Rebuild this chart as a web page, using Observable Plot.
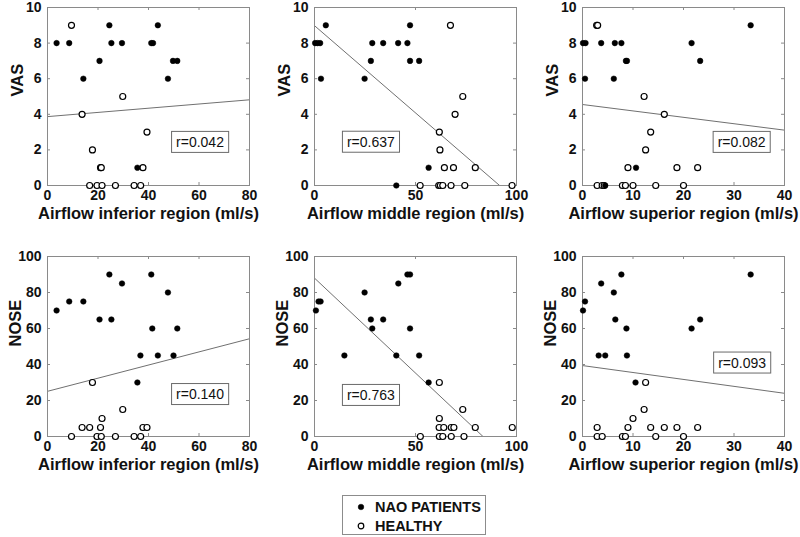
<!DOCTYPE html>
<html><head><meta charset="utf-8">
<script src="https://cdn.jsdelivr.net/npm/d3@7"></script>
<script src="https://cdn.jsdelivr.net/npm/@observablehq/plot@0.6"></script>
<style>
body{margin:0;background:#fff;font-family:"Liberation Sans",Arial,sans-serif;}
#fig{position:relative;width:800px;height:537px;overflow:hidden;background:#fff;}
.panel{position:absolute;}
#legend{position:absolute;left:342px;top:495px;width:144px;height:40px;border:1px solid #8c8c8c;box-sizing:border-box;font-weight:bold;font-size:14.5px;color:#111;background:#fff;}
#legend .row{position:absolute;left:0;height:18px;line-height:18px;white-space:nowrap;}
#legend svg{position:absolute;left:12px;top:3px;}
#legend span{position:absolute;left:32px;top:0;}
</style></head><body><div id="fig"></div>
<script>
// ---- axes / labels ----
const xLabels = ["Airflow inferior region (ml/s)", "Airflow middle region (ml/s)", "Airflow superior region (ml/s)"];
const xMax = [80, 100, 40];
const xTicks = [[0, 20, 40, 60, 80], [0, 50, 100], [0, 10, 20, 30, 40]];
const yLabels = ["VAS", "NOSE"];
const yMax = [10, 100];
const yTicks = [[0, 2, 4, 6, 8, 10], [0, 20, 40, 60, 80, 100]];
const groups = ["NAO PATIENTS", "HEALTHY"];

// ---- VAS vs inferior ----
const vasInfPatX = [3.6, 8.6, 14.2, 20.6, 24.5, 25.3, 29.5, 35.6, 41.1, 41.8, 43.7, 47.7, 49.7, 51.4];
const vasInfPatY = [8, 8, 6, 7, 9, 8, 8, 1, 8, 8, 9, 6, 7, 7];
const vasInfHeaX = [9.5, 13.7, 16.7, 17.8, 19.6, 21.0, 21.3, 21.6, 26.9, 29.8, 34.3, 36.9, 37.8, 39.4];
const vasInfHeaY = [9, 4, 0, 2, 0, 1, 1, 0, 0, 5, 0, 0, 1, 3];
// ---- VAS vs middle ----
const vasMidPatX = [0.3, 1.5, 2.8, 3.2, 5.6, 24.8, 27.9, 28.6, 34.0, 40.5, 41.4, 46.0, 47.3, 47.3, 51.8, 56.5];
const vasMidPatY = [8, 8, 8, 6, 9, 6, 7, 8, 8, 0, 8, 8, 9, 7, 7, 1];
const vasMidHeaX = [52.3, 61.5, 61.8, 62.1, 62.3, 63.5, 64.3, 67.3, 67.6, 68.8, 69.6, 73.4, 74.4, 79.6, 97.8];
const vasMidHeaY = [0, 0, 3, 2, 0, 0, 1, 9, 0, 1, 4, 5, 0, 1, 0];
// ---- VAS vs superior ----
const vasSupPatX = [0.1, 0.6, 0.5, 3.7, 4.5, 6.2, 6.4, 7.7, 8.6, 8.8, 10.6, 21.6, 23.3, 33.3];
const vasSupPatY = [8, 8, 6, 8, 0, 6, 8, 8, 7, 7, 1, 8, 7, 9];
const vasSupHeaX = [2.8, 3.0, 2.9, 3.9, 4.3, 7.9, 8.5, 9.0, 10.0, 12.2, 12.5, 13.5, 14.5, 16.2, 18.7, 20.0, 22.8];
const vasSupHeaY = [9, 9, 0, 0, 0, 0, 0, 1, 0, 5, 2, 3, 0, 4, 1, 0, 1];
// ---- NOSE vs inferior ----
const noseInfPatX = [3.6, 8.6, 14.2, 20.6, 24.5, 25.3, 29.5, 35.6, 36.8, 41.1, 41.5, 43.7, 47.7, 49.9, 51.4];
const noseInfPatY = [70, 75, 75, 65, 90, 65, 85, 30, 45, 90, 60, 45, 80, 45, 60];
const noseInfHeaX = [9.5, 13.7, 16.7, 17.8, 19.6, 21.0, 21.3, 21.6, 26.9, 29.8, 34.3, 36.9, 37.8, 39.4];
const noseInfHeaY = [0, 5, 5, 30, 0, 5, 0, 10, 0, 15, 0, 0, 5, 5];
// ---- NOSE vs middle ----
const noseMidPatX = [0.7, 2.0, 3.0, 14.8, 24.8, 27.9, 28.6, 34.0, 40.5, 41.5, 46.0, 47.3, 47.3, 51.8, 56.5];
const noseMidPatY = [70, 75, 75, 45, 80, 65, 60, 65, 45, 85, 90, 90, 60, 45, 30];
const noseMidHeaX = [52.4, 61.8, 63.5, 67.7, 74.0, 61.7, 64.0, 67.7, 69.0, 79.6, 97.9, 61.8, 73.4, 61.8];
const noseMidHeaY = [0, 0, 0, 0, 0, 5, 5, 5, 5, 5, 5, 10, 15, 30];
// ---- NOSE vs superior ----
const noseSupPatX = [0.1, 0.5, 3.2, 3.7, 4.5, 6.2, 6.5, 7.7, 8.7, 8.8, 10.5, 21.6, 23.3, 33.3];
const noseSupPatY = [70, 75, 45, 85, 45, 80, 65, 90, 60, 45, 30, 60, 65, 90];
const noseSupHeaX = [2.9, 2.9, 3.9, 7.9, 8.5, 9.0, 10.0, 12.2, 12.5, 13.5, 14.5, 16.2, 18.7, 20.0, 22.8];
const noseSupHeaY = [5, 0, 0, 0, 0, 5, 10, 15, 30, 5, 0, 5, 5, 0, 5];

// ---- fitted lines (intercept, slope) and r annotations ----
const fitIntercept = [3.87, 8.98, 4.55, 25.1, 88.0, 39.4];
const fitSlope = [0.0118, -0.098, -0.036, 0.365, -1.055, -0.385];
const rText = ["r=0.042", "r=0.637", "r=0.082", "r=0.140", "r=0.763", "r=0.093"];
const rX = [60.4, 27.9, 31.5, 60.4, 27.9, 31.6];
const rY = [2.42, 2.43, 2.42, 23.3, 22.8, 40.8];

const patX = [vasInfPatX, vasMidPatX, vasSupPatX, noseInfPatX, noseMidPatX, noseSupPatX];
const patY = [vasInfPatY, vasMidPatY, vasSupPatY, noseInfPatY, noseMidPatY, noseSupPatY];
const heaX = [vasInfHeaX, vasMidHeaX, vasSupHeaX, noseInfHeaX, noseMidHeaX, noseSupHeaX];
const heaY = [vasInfHeaY, vasMidHeaY, vasSupHeaY, noseInfHeaY, noseMidHeaY, noseSupHeaY];

// ---- layout ----
const frameLeft = [46.5, 314, 581.5];
const frameTop = [7, 256];
const frameH = [178, 180];
const W = 202, mL = 46, mT = 10, mR = 12, mB = 48;
const FONT = "'Liberation Sans', Arial, sans-serif";
const fig = document.getElementById("fig");

for (let k = 0; k < 6; k++) {
  const row = Math.floor(k / 3), col = k % 3;
  const H = frameH[row];
  const pats = patX[k].map((x, i) => ({x, y: patY[k][i]}));
  const heas = heaX[k].map((x, i) => ({x, y: heaY[k][i]}));
  const fit = [0, xMax[col]].map(x => ({x, y: fitIntercept[k] + fitSlope[k] * x}));
  const chart = Plot.plot({
    width: mL + W + mR, height: mT + H + mB,
    marginLeft: mL, marginTop: mT, marginRight: mR, marginBottom: mB,
    style: {background: "transparent", overflow: "visible", fontFamily: FONT},
    x: {domain: [0, xMax[col]]},
    y: {domain: [0, yMax[row]]},
    marks: [
      Plot.line(fit, {x: "x", y: "y", stroke: "#707070", strokeWidth: 1, clip: true}),
      Plot.tickX(xTicks[col], {x: d => d, insetTop: H - 3, stroke: "#8a8a8a"}),
      Plot.tickX(xTicks[col], {x: d => d, insetBottom: H - 3, stroke: "#8a8a8a"}),
      Plot.tickY(yTicks[row], {y: d => d, insetRight: W - 3, stroke: "#8a8a8a"}),
      Plot.tickY(yTicks[row], {y: d => d, insetLeft: W - 3, stroke: "#8a8a8a"}),
      Plot.frame({stroke: "#8a8a8a"}),
      Plot.axisX(xTicks[col], {tickSize: 0, tickPadding: 5, fontSize: 14, fontWeight: "bold", fill: "#111", label: null}),
      Plot.axisY(yTicks[row], {tickSize: 0, tickPadding: 6, fontSize: 14, fontWeight: "bold", fill: "#111", label: null}),
      Plot.text([xLabels[col]], {text: d => d, frameAnchor: "bottom", dy: 33.5, fontSize: 16.5, fontWeight: "bold", fill: "#111"}),
      Plot.text([yLabels[row]], {text: d => d, frameAnchor: "left", dx: row === 0 ? -30 : -32, rotate: -90, fontSize: 16.5, fontWeight: "bold", fill: "#111"}),
      Plot.dot(heas, {x: "x", y: "y", r: 3, fill: "white", stroke: "black", strokeWidth: 1.2}),
      Plot.dot(pats, {x: "x", y: "y", r: 2.8, fill: "black", stroke: "black", strokeWidth: 0.5}),
      Plot.text([{x: rX[k], y: rY[k], t: rText[k]}], {x: "x", y: "y", text: "t", fontSize: 14, fill: "#111"})
    ]
  });
  chart.classList.add("panel");
  chart.style.left = (frameLeft[col] - mL) + "px";
  chart.style.top = (frameTop[row] - mT) + "px";
  fig.appendChild(chart);
  // box around the r annotation
  chart.querySelectorAll("text").forEach(t => {
    if (t.textContent.startsWith("r=")) {
      const bb = t.getBBox();
      const rect = document.createElementNS("http://www.w3.org/2000/svg", "rect");
      const bw = bb.width + 9, bh = 21;
      rect.setAttribute("x", bb.x + bb.width / 2 - bw / 2);
      rect.setAttribute("y", bb.y + bb.height / 2 - bh / 2);
      rect.setAttribute("width", bw);
      rect.setAttribute("height", bh);
      rect.setAttribute("fill", "white");
      rect.setAttribute("stroke", "#6a6a6a");
      if (t.getAttribute("transform")) rect.setAttribute("transform", t.getAttribute("transform"));
      t.parentNode.insertBefore(rect, t);
    }
  });
}

// ---- legend ----
const leg = document.createElement("div");
leg.id = "legend";
groups.forEach((g, i) => {
  const r = document.createElement("div");
  r.className = "row";
  r.style.top = (2 + i * 19) + "px";
  r.innerHTML = `<svg width="12" height="12"><circle cx="6" cy="6" r="2.8" fill="${i === 0 ? "black" : "white"}" stroke="black" stroke-width="${i === 0 ? 0.5 : 1.2}"/></svg><span>${g}</span>`;
  leg.appendChild(r);
});
fig.appendChild(leg);
</script></body></html>
